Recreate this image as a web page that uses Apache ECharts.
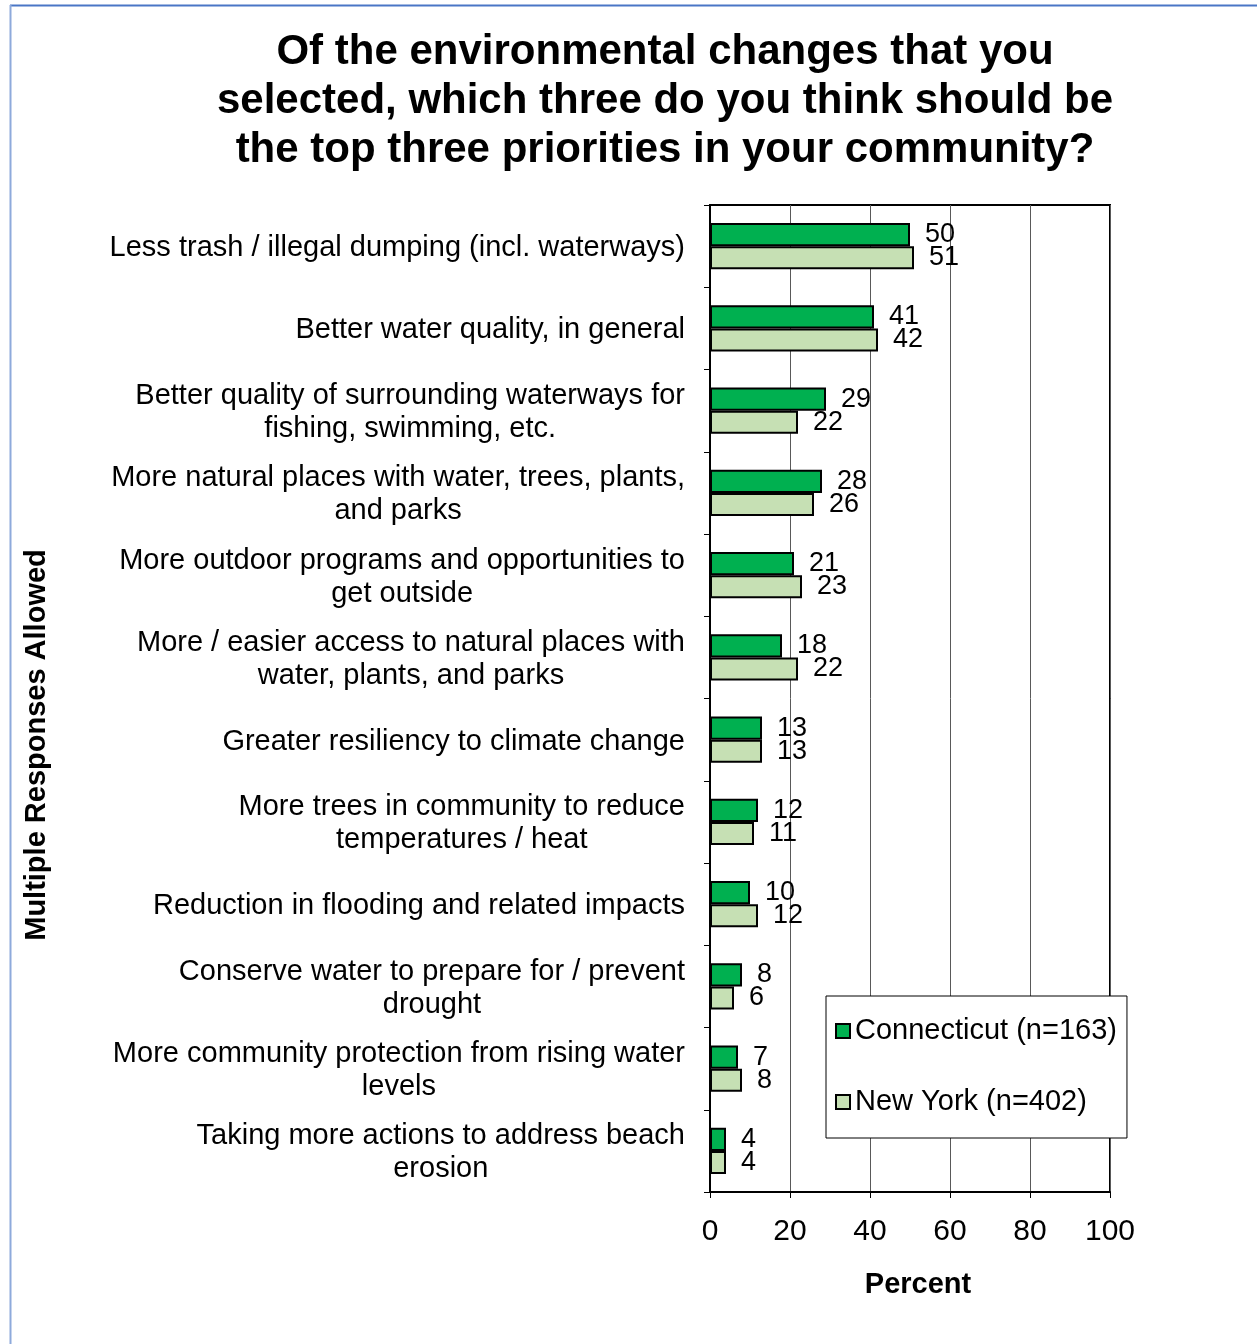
<!DOCTYPE html>
<html><head><meta charset="utf-8">
<script src="https://cdn.jsdelivr.net/npm/echarts@6/dist/echarts.min.js"></script>
<style>html,body{margin:0;padding:0;background:#fff}#c{width:1257px;height:1344px}</style>
</head><body><div id="c"></div>
<script>
const categories = [
  "Less trash / illegal dumping (incl. waterways)",
  "Better water quality, in general",
  "Better quality of surrounding waterways for\nfishing, swimming, etc.",
  "More natural places with water, trees, plants,\nand parks",
  "More outdoor programs and opportunities to\nget outside",
  "More / easier access to natural places with\nwater, plants, and parks",
  "Greater resiliency to climate change",
  "More trees in community to reduce\ntemperatures / heat",
  "Reduction in flooding and related impacts",
  "Conserve water to prepare for / prevent\ndrought",
  "More community protection from rising water\nlevels",
  "Taking more actions to address beach\nerosion"
];
const connecticut = [50, 41, 29, 28, 21, 18, 13, 12, 10, 8, 7, 4];
const newYork = [51, 42, 22, 26, 23, 22, 13, 11, 12, 6, 8, 4];
const seriesNames = ["Connecticut (n=163)", "New York (n=402)"];
const xTicks = [0, 20, 40, 60, 80, 100];

const FONT = "Liberation Sans, Arial, sans-serif";
const chart = echarts.init(document.getElementById('c'), null, {renderer: 'canvas'});
const labelStyle = {show: true, position: 'right', distance: 15, fontSize: 27, color: '#000', fontFamily: FONT};
chart.setOption({
  animation: false,
  backgroundColor: '#fff',
  title: {
    text: "Of the environmental changes that you\nselected, which three do you think should be\nthe top three priorities in your community?",
    left: 660, top: 23, textAlign: 'center',
    textStyle: {fontSize: 42, fontWeight: 'bold', fontFamily: FONT, lineHeight: 49, color: '#000'}
  },
  grid: {left: 710, right: 147, top: 205, bottom: 152, show: true, borderColor: '#000', borderWidth: 2, backgroundColor: '#fff'},
  legend: {
    orient: 'vertical', left: 826, top: 996,
    data: seriesNames,
    icon: 'rect', itemWidth: 14, itemHeight: 14, itemGap: 41,
    padding: [20, 10, 21, 9],
    backgroundColor: '#fff', borderColor: '#000', borderWidth: 1,
    textStyle: {fontSize: 29, fontFamily: FONT, color: '#000', lineHeight: 30}
  },
  xAxis: {
    type: 'value', min: 0, max: 100, interval: 20,
    axisLine: {show: true, lineStyle: {color: '#000', width: 2}},
    axisTick: {show: true, length: 6, lineStyle: {color: '#000', width: 1}},
    axisLabel: {fontSize: 30, fontFamily: FONT, color: '#000', margin: 25,
      formatter: v => xTicks.includes(v) ? String(v) : ''},
    splitLine: {show: true, lineStyle: {color: '#595959', width: 1}}
  },
  yAxis: {
    type: 'category', inverse: true, data: categories,
    axisLine: {show: true, lineStyle: {color: '#000', width: 2}},
    axisTick: {show: true, length: 6, lineStyle: {color: '#000', width: 1}},
    axisLabel: {
      margin: 25, fontSize: 29, fontFamily: FONT, color: '#000', lineHeight: 33, align: 'right',
      padding: [4, 0, 0, 0],
      formatter: v => v.split('\n').map(l => '{c|' + l + '}').join('\n'),
      rich: {c: {align: 'center', fontSize: 29, fontFamily: FONT, color: '#000', lineHeight: 33}}
    },
    splitLine: {show: false}
  },
  series: [
    {name: seriesNames[0], type: 'bar', data: connecticut, barGap: '0%', barCategoryGap: '44%',
     itemStyle: {color: '#00B050', borderColor: '#000', borderWidth: 2}, label: labelStyle},
    {name: seriesNames[1], type: 'bar', data: newYork, barGap: '0%', barCategoryGap: '44%',
     itemStyle: {color: '#C6E0B4', borderColor: '#000', borderWidth: 2}, label: labelStyle}
  ],
  graphic: [
    {type: 'line', shape: {x1: 10, y1: 5.5, x2: 1257, y2: 5.5}, style: {stroke: '#4A76C6', lineWidth: 2}, z: 100},
    {type: 'line', shape: {x1: 10.5, y1: 5, x2: 10.5, y2: 1344}, style: {stroke: '#8EAADB', lineWidth: 2}, z: 100},
    {type: 'text', x: 37, y: 745, rotation: Math.PI / 2,
     style: {text: 'Multiple Responses Allowed', fontSize: 29, fontWeight: 'bold', fontFamily: FONT, fill: '#000', textAlign: 'center', textVerticalAlign: 'middle'}},
    {type: 'text', x: 918, y: 1285,
     style: {text: 'Percent', fontSize: 29, fontWeight: 'bold', fontFamily: FONT, fill: '#000', textAlign: 'center', textVerticalAlign: 'middle'}}
  ]
});
</script></body></html>
